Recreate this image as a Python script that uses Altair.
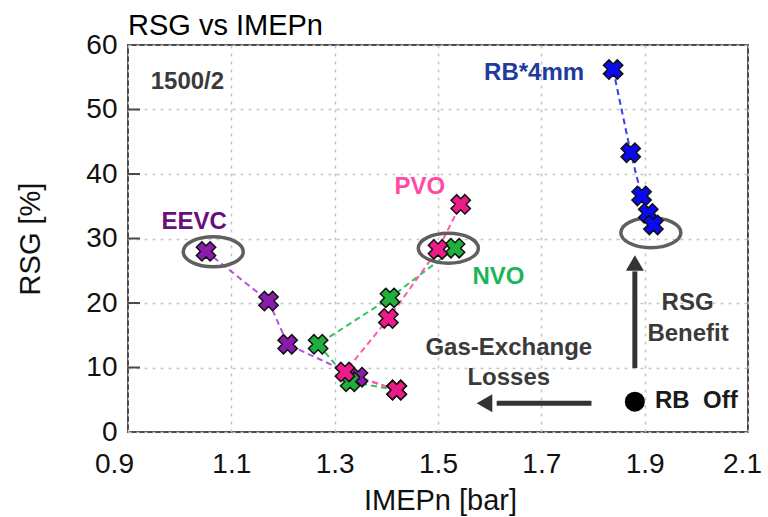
import altair as alt
import pandas as pd

# ---- measured points (IMEPn [bar], RSG [%]) ----
eevc_x = [1.42, 1.345, 1.209, 1.172, 1.051]
eevc_y = [6.5, 8.5, 13.6, 20.3, 28.0]
nvo_x = [1.42, 1.33, 1.268, 1.407, 1.533]
nvo_y = [6.5, 7.8, 13.6, 20.8, 28.5]
pvo_x = [1.42, 1.32, 1.404, 1.50, 1.544]
pvo_y = [6.5, 9.3, 17.6, 28.3, 35.3]
rb_x = [1.839, 1.873, 1.894, 1.907, 1.917]
rb_y = [56.2, 43.3, 36.6, 33.9, 32.1]

series_names = ["EEVC", "NVO", "PVO", "RB*4mm"]
line_colors = ["#B44FE0", "#2FC45A", "#FF5AAE", "#3B3BF5"]
marker_colors = ["#8A1BAE", "#1FAF3A", "#EE1A8A", "#0A0AF0"]

x_ticks = [0.9, 1.1, 1.3, 1.5, 1.7, 1.9, 2.1]
y_ticks = [0, 10, 20, 30, 40, 50, 60]

rows = []
for name, xs, ys in zip(series_names,
                        [eevc_x, nvo_x, pvo_x, rb_x],
                        [eevc_y, nvo_y, pvo_y, rb_y]):
    for i, (xv, yv) in enumerate(zip(xs, ys)):
        rows.append({"series": name, "idx": i, "imep": xv, "rsg": yv})
points = pd.DataFrame(rows)

# ---- annotations ----
label_text = ["1500/2", "RB*4mm", "PVO", "EEVC", "NVO",
              "Gas-Exchange", "Losses", "RSG", "Benefit"]
label_x = [1.015, 1.686, 1.465, 1.028, 1.617, 1.637, 1.637, 1.983, 1.984]
label_y = [54.3, 55.7, 38.0, 32.6, 24.1, 13.1, 8.3, 19.95, 15.2]
label_color = ["#3a3a3a", "#1D3C9E", "#FF4AA5", "#6B0B7C", "#1DB45A",
               "#3a3a3a", "#3a3a3a", "#3a3a3a", "#3a3a3a"]
labels = pd.DataFrame({"t": label_text, "x": label_x, "y": label_y, "c": label_color})

ellipse_x = [1.065, 1.52, 1.912]
ellipse_y = [27.95, 28.5, 30.9]
ellipses = pd.DataFrame({"x": ellipse_x, "y": ellipse_y})

shaft_x = [1.881, 1.797]
shaft_y = [9.9, 4.45]
shaft_x2 = [1.881, 1.6136]
shaft_y2 = [24.9, 4.45]
shafts = pd.DataFrame({"x": shaft_x, "y": shaft_y, "x2": shaft_x2, "y2": shaft_y2})

head_x = [1.881, 1.590]
head_y = [26.2, 4.45]
head_shape = ["triangle-up", "triangle-left"]
heads = pd.DataFrame({"x": head_x, "y": head_y, "s": head_shape})

legend_dot = pd.DataFrame({"x": [1.881], "y": [4.7]})
legend_text = pd.DataFrame({"x": [1.920], "y": [4.84], "t": ["RB\u00a0\u00a0Off"]})

title_text = pd.DataFrame({"t": ["RSG vs IMEPn"]})

FONT = "Liberation Sans"

xs = alt.Scale(domain=[0.9, 2.1], nice=False, zero=False)
ys = alt.Scale(domain=[0, 60], nice=False, zero=False)

X = alt.X("imep:Q", scale=xs,
          axis=alt.Axis(values=x_ticks, format=".1f", title="IMEPn [bar]",
                        labelFlush=False,
                        labelOffset={"expr": "datum.value <= 0.9 ? -14 : (datum.value >= 2.1 ? -6 : 0)"},
                        titleX=312, titleY=68, titleBaseline="middle"))
Y = alt.Y("rsg:Q", scale=ys,
          axis=alt.Axis(values=y_ticks, title="RSG [%]",
                        titleX=-98, titleY=193.5, titleBaseline="middle",
                        titleAngle=-90))

color_line = alt.Color("series:N", scale=alt.Scale(domain=series_names, range=line_colors), legend=None)

lines = alt.Chart(points).mark_line(strokeDash=[6, 4], strokeWidth=2).encode(
    x=X, y=Y, color=color_line, detail="series:N", order="idx:Q"
)

marks = alt.Chart(points).mark_point(
    shape="cross", angle=45, filled=True, size=380, stroke="#111111",
    strokeWidth=1.5, opacity=1
).encode(
    x="imep:Q", y="rsg:Q",
    fill=alt.Fill("series:N", scale=alt.Scale(domain=series_names, range=marker_colors), legend=None),
    order=alt.Order("series:N")
)

ytick_rules = alt.Chart(pd.DataFrame({"v": y_ticks[1:-1]})).mark_rule(
    color="#4a4a4a", strokeWidth=2
).encode(y=alt.Y("v:Q", scale=ys), x=alt.value(0), x2=alt.value(12))

ellipse_layer = alt.Chart(ellipses).mark_point(
    shape="M-1,0A1,0.5,0,1,1,1,0A1,0.5,0,1,1,-1,0Z",
    size=3600, filled=False, stroke="#5f5f5f", strokeWidth=3.5, opacity=1
).encode(x=alt.X("x:Q", scale=xs), y=alt.Y("y:Q", scale=ys))

shaft_layer = alt.Chart(shafts).mark_rule(color="#333333", strokeWidth=5).encode(
    x=alt.X("x:Q", scale=xs), y=alt.Y("y:Q", scale=ys), x2="x2:Q", y2="y2:Q"
)

head_layer = alt.Chart(heads).mark_point(
    filled=True, size=324, color="#333333", opacity=1
).encode(x=alt.X("x:Q", scale=xs), y=alt.Y("y:Q", scale=ys),
         shape=alt.Shape("s:N", scale=None))

dot_layer = alt.Chart(legend_dot).mark_point(
    shape="circle", filled=True, size=400, color="#000000", opacity=1
).encode(x=alt.X("x:Q", scale=xs), y=alt.Y("y:Q", scale=ys))

dot_text = alt.Chart(legend_text).mark_text(
    align="left", baseline="middle", font=FONT, fontSize=24, fontWeight="bold", color="#1a1a1a"
).encode(x=alt.X("x:Q", scale=xs), y=alt.Y("y:Q", scale=ys), text="t:N")

label_layer = alt.Chart(labels).mark_text(
    align="center", baseline="middle", font=FONT, fontSize=24, fontWeight="bold"
).encode(x=alt.X("x:Q", scale=xs), y=alt.Y("y:Q", scale=ys), text="t:N",
         color=alt.Color("c:N", scale=None))

# chart heading, drawn just above the frame's top-left corner
heading = alt.Chart(title_text).mark_text(
    align="left", baseline="alphabetic", font=FONT, fontSize=29, color="#000000"
).encode(x=alt.value(0), y=alt.value(-10.5), text="t:N")

chart = alt.layer(
    lines, ytick_rules, ellipse_layer, marks, shaft_layer, head_layer,
    dot_layer, dot_text, label_layer, heading
).properties(
    width=620, height=387,
    autosize=alt.AutoSizeParams(type="none"),
    padding={"left": 128, "top": 45, "right": 20, "bottom": 85},
).configure_view(
    stroke="#4a4a4a", strokeWidth=2
).configure_axis(
    domain=False, ticks=False, tickSize=0,
    grid=True, gridColor="#c4c4c4", gridDash=[3, 5], gridWidth=1.5,
    labelFont=FONT, labelFontSize=28, labelColor="#111111",
    titleFont=FONT, titleFontSize=29, titleFontWeight="normal", titleColor="#111111"
).configure_axisX(
    labelPadding=18
).configure_axisY(
    labelPadding=11, labelBaseline="middle"
)

chart.save("out.html", embed_options={"renderer": "svg", "actions": False})
